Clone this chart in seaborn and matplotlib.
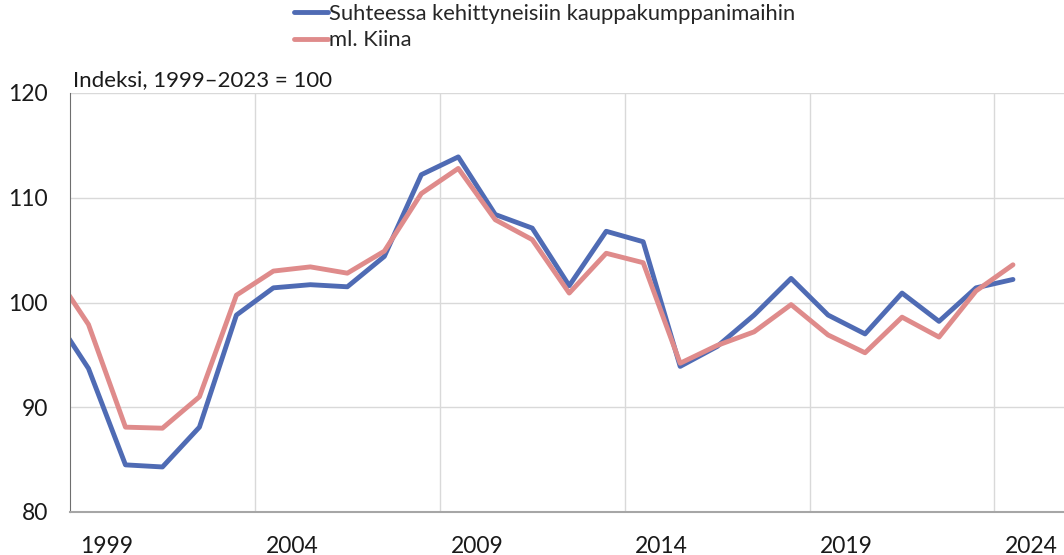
import numpy as np
import pandas as pd
import matplotlib
matplotlib.use("Agg")
import matplotlib.pyplot as plt
import seaborn as sns

# Annual index values (1998 point is clipped at the left edge)
years = list(range(1998, 2025))
kehittyneet = [99.1, 93.7, 84.5, 84.3, 88.1, 98.8, 101.4, 101.7, 101.5, 104.4,
               112.2, 113.9, 108.4, 107.1, 101.6, 106.8, 105.8, 93.9, 95.8,
               98.8, 102.3, 98.8, 97.0, 100.9, 98.2, 101.4, 102.2]
kiina = [103.2, 97.9, 88.1, 88.0, 91.0, 100.7, 103.0, 103.4, 102.8, 104.9,
         110.4, 112.8, 107.9, 106.0, 100.9, 104.7, 103.8, 94.2, 95.9,
         97.2, 99.8, 96.9, 95.2, 98.6, 96.7, 101.1, 103.6]
tick_years = [1999, 2004, 2009, 2014, 2019, 2024]
grid_years = [2003, 2008, 2013, 2018, 2023]

lbl_a = "Suhteessa kehittyneisiin kauppakumppanimaihin"
lbl_b = "ml. Kiina"

df = pd.DataFrame({"year": years, lbl_a: kehittyneet, lbl_b: kiina})
df["x"] = df["year"] - 0.5
long = df.melt(id_vars=["year", "x"], var_name="sarja", value_name="indeksi")

sns.set_style("white")
plt.rcParams["font.family"] = ["Lato", "DejaVu Sans"]

fig = plt.figure(figsize=(10.64, 5.55), dpi=100)
ax = fig.add_axes([70 / 1064, 43 / 555, 1 - 70 / 1064, 419 / 555])

sns.lineplot(data=long, x="x", y="indeksi", hue="sarja",
             palette={lbl_a: "#4f6bb4", lbl_b: "#df8b8b"},
             linewidth=3.5, ax=ax, legend=True)

ax.set_xlim(1998, 2024.88)
ax.set_ylim(80, 120)
ax.set_yticks([80, 90, 100, 110, 120])
ax.set_xticks(tick_years)
ax.set_xticks(grid_years, minor=True)
ax.tick_params(axis="both", which="both", length=0, labelsize=16.5, colors="#1a1a1a")
ax.tick_params(axis="x", pad=17)
ax.tick_params(axis="y", pad=16)
ax.grid(axis="y", which="major", color="#d9d9d9", linewidth=1)
ax.grid(axis="x", which="minor", color="#d9d9d9", linewidth=1)
ax.set_axisbelow(True)
ax.set_xlabel("")
ax.set_ylabel("")
for s in ["top", "right"]:
    ax.spines[s].set_visible(False)
ax.spines["left"].set_color("#6e6e6e")
ax.spines["bottom"].set_color("#a6a6a6")
ax.spines["bottom"].set_linewidth(1.5)

ax.text(0.003, 1.006, "Indeksi, 1999\u20132023 = 100", transform=ax.transAxes,
        ha="left", va="bottom", fontsize=16, color="#1a1a1a")

handles, labels = ax.get_legend_handles_labels()
ax.legend(handles, labels, loc="upper left", bbox_to_anchor=(287 / 1064, 1.005),
          bbox_transform=fig.transFigure, frameon=False, fontsize=15.8,
          handlelength=1.55, handletextpad=0.05, labelspacing=0.3,
          borderaxespad=0.2, borderpad=0.1)

fig.savefig("out.png", dpi=100)
